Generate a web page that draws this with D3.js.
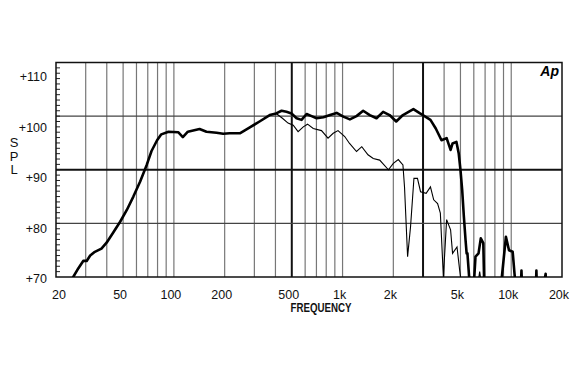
<!DOCTYPE html>
<meta charset="utf-8">
<script src="https://d3js.org/d3.v7.min.js"></script>
<style>body{margin:0;background:#fff}</style>
<div id="chart"></div>
<script>

// on-axis response (thick line)
var onFreq = [24, 25.3, 27.1, 29.0, 30.4, 31.9, 34.0, 37.2, 39.9, 43.7, 48.0, 52.6, 57.5, 63.1, 69.0, 73.7, 79.5, 84.2, 92.9, 106, 113, 121, 142, 156, 179, 196, 214, 246, 282, 322, 370, 404, 435, 465, 498, 534, 571, 612, 655, 702, 770, 843, 923, 1010, 1105, 1210, 1325, 1450, 1590, 1740, 1900, 2080, 2280, 2630, 2880, 3060, 3320, 3570, 3860, 4140, 4370, 4490, 4730, 4880, 5000, 5120, 5240, 5360, 5440, 5500, 5630, 5800, 6000, 6140, 6400, 6600, 6830, 6900, 7500, 8200, 8800, 9300, 9700, 10200, 10500, 11000, 11400, 11500, 11600, 12500, 14000, 14100, 14200, 15500, 16000, 16100, 17000];
var onSpl = [68, 70, 71.6, 73.0, 73.0, 74.0, 74.7, 75.3, 76.4, 78.3, 80.3, 82.5, 85.0, 87.8, 90.9, 93.5, 95.5, 96.6, 97.1, 97.0, 96.1, 97.1, 97.6, 97.1, 96.9, 96.7, 96.8, 96.8, 97.9, 99.0, 100.2, 100.5, 101.0, 100.8, 100.5, 99.6, 99.3, 100.4, 100.0, 99.6, 99.8, 100.2, 100.6, 99.9, 99.4, 100.0, 101.0, 100.2, 99.6, 100.8, 100.2, 99.0, 100.2, 101.3, 100.5, 100.0, 99.3, 97.7, 95.5, 95.9, 93.7, 94.9, 95.2, 93.1, 90.0, 86.2, 81.2, 76.9, 74.4, 74.4, 70, 68, 68.5, 73.8, 74.4, 77.2, 76.3, 70, 68, 68, 70, 77.5, 75.0, 74.7, 70, 68, 68, 71.2, 68, 68, 68, 71.2, 68, 68, 70.6, 68, 68];

// off-axis response (thin line)
var offFreq = [404, 440, 475, 510, 545, 585, 620, 670, 750, 820, 880, 940, 1030, 1100, 1210, 1300, 1415, 1520, 1660, 1870, 2000, 2140, 2280, 2330, 2430, 2530, 2650, 2780, 2900, 3130, 3320, 3470, 3660, 3800, 3960, 4140, 4370, 4490, 4770, 4950, 5100, 6300, 6500, 6700];
var offSpl = [100.5, 99.6, 98.7, 98.3, 97.1, 98.0, 98.5, 97.7, 97.3, 95.9, 96.8, 97.3, 96.2, 94.9, 93.4, 94.3, 92.8, 92.1, 91.8, 90.0, 91.2, 91.9, 90.9, 86.8, 73.8, 79.4, 88.4, 88.4, 85.9, 85.6, 86.8, 84.4, 83.7, 81.9, 70, 80.7, 78.8, 74.4, 75.6, 71.2, 68, 68, 71.0, 68];

var freqTicks = [20, 50, 100, 200, 500, 1000, 2000, 5000, 10000, 20000];
var freqLabels = ["20", "50", "100", "200", "500", "1k", "2k", "5k", "10k", "20k"];
var splTicks = [70, 80, 90, 100, 110];

var pLeft = 56, pRight = 562, pTop = 62.5, pBottom = 277;

var svg = d3.select("#chart")
  .append("svg")
    .attr("width", 570)
    .attr("height", 380)
    .style("background", "#fff");

var x = d3.scaleLog().domain([20, 20000]).range([pLeft, pRight]);
var y = d3.scaleLinear().domain([70, 110]).range([pBottom, pTop]);
// the printed labels do not sit exactly on the grid
var yLab = d3.scaleLinear().domain([70, 110]).range([279, 77]);

// vertical grid
var gridF = x.ticks().filter(function(f) { return f > 20 && f <= 10000; });
svg.append("g").selectAll("line")
  .data(gridF)
  .enter().append("line")
    .attr("x1", function(d) { return x(d); })
    .attr("x2", function(d) { return x(d); })
    .attr("y1", pTop)
    .attr("y2", pBottom)
    .attr("stroke", function(d) { return (d == 500 || d == 3000) ? "#111" : "#777"; })
    .attr("stroke-width", function(d) { return (d == 500 || d == 3000) ? 2 : 1.2; });

// horizontal grid
svg.append("g").selectAll("line")
  .data([80, 90, 100])
  .enter().append("line")
    .attr("x1", pLeft)
    .attr("x2", pRight)
    .attr("y1", function(d) { return y(d); })
    .attr("y2", function(d) { return y(d); })
    .attr("stroke", function(d) { return d == 90 ? "#111" : "#444"; })
    .attr("stroke-width", function(d) { return d == 90 ? 2 : 1.2; });

// small ticks every dB on the left edge
svg.append("g").selectAll("line")
  .data(d3.range(71, 110))
  .enter().append("line")
    .attr("x1", pLeft)
    .attr("x2", pLeft + 4)
    .attr("y1", function(d) { return y(d); })
    .attr("y2", function(d) { return y(d); })
    .attr("stroke", "#222")
    .attr("stroke-width", 1);

// frame
svg.append("rect")
  .attr("x", pLeft).attr("y", pTop)
  .attr("width", pRight - pLeft).attr("height", pBottom - pTop)
  .attr("fill", "none")
  .attr("stroke", "#111")
  .attr("stroke-width", 1.5);

svg.append("clipPath").attr("id", "clip")
  .append("rect")
    .attr("x", pLeft).attr("y", pTop)
    .attr("width", pRight - pLeft).attr("height", pBottom - pTop);

var line = d3.line()
  .x(function(d) { return x(d[0]); })
  .y(function(d) { return y(d[1]); });

svg.append("path")
  .datum(d3.zip(offFreq, offSpl))
  .attr("clip-path", "url(#clip)")
  .attr("fill", "none")
  .attr("stroke", "#000")
  .attr("stroke-width", 1.1)
  .attr("d", line);

svg.append("path")
  .datum(d3.zip(onFreq, onSpl))
  .attr("clip-path", "url(#clip)")
  .attr("fill", "none")
  .attr("stroke", "#000")
  .attr("stroke-width", 2.6)
  .attr("stroke-linejoin", "round")
  .attr("d", line);

// y labels
svg.append("g").selectAll("text")
  .data(splTicks)
  .enter().append("text")
    .attr("x", 47)
    .attr("y", function(d) { return yLab(d); })
    .attr("dy", "0.35em")
    .attr("text-anchor", "end")
    .style("font-family", "Liberation Sans, Arial, sans-serif")
    .style("font-size", "12.5px")
    .attr("fill", "#111")
    .text(function(d) { return "+" + d; });

// x labels
svg.append("g").selectAll("text")
  .data(freqTicks)
  .enter().append("text")
    .attr("x", function(d, i) { return i == 0 ? x(d) + 3 : x(d) - 3; })
    .attr("y", 299)
    .attr("text-anchor", "middle")
    .style("font-family", "Liberation Sans, Arial, sans-serif")
    .style("font-size", "12.5px")
    .attr("fill", "#111")
    .text(function(d, i) { return freqLabels[i]; });

svg.append("text")
  .attr("x", 321)
  .attr("y", 312)
  .attr("text-anchor", "middle")
  .attr("textLength", 61)
  .attr("lengthAdjust", "spacingAndGlyphs")
  .style("font-family", "Liberation Sans, Arial, sans-serif")
  .style("font-size", "12.5px")
  .style("font-weight", "bold")
  .attr("fill", "#111")
  .text("FREQUENCY");

// SPL stacked vertically
svg.append("g").selectAll("text")
  .data(["S", "P", "L"])
  .enter().append("text")
    .attr("x", 14)
    .attr("y", function(d, i) { return 147 + i * 13.5; })
    .attr("text-anchor", "middle")
    .style("font-family", "Liberation Sans, Arial, sans-serif")
    .style("font-size", "13px")
    .attr("fill", "#111")
    .text(function(d) { return d; });

// Ap logo
svg.append("text")
  .attr("x", 559)
  .attr("y", 76)
  .attr("text-anchor", "end")
  .style("font-family", "Liberation Sans, Arial, sans-serif")
  .style("font-size", "14px")
  .style("font-weight", "bold")
  .style("font-style", "italic")
  .attr("fill", "#000")
  .text("Ap");

</script>
